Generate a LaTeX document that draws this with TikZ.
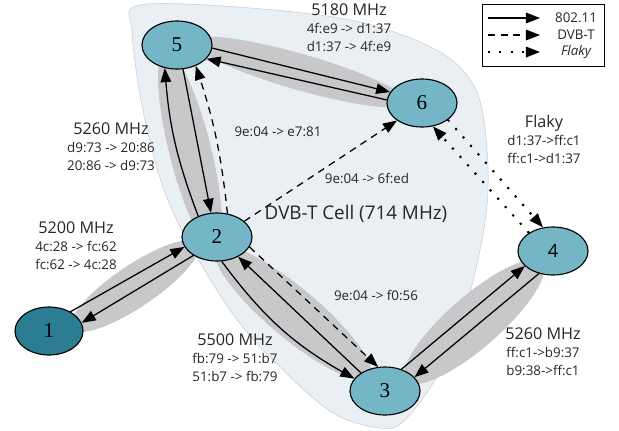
\documentclass[tikz,border=0pt]{standalone}
\usepackage{fontspec}
\setmainfont{Open Sans}
\newfontfamily\numfont{Liberation Serif}
\usetikzlibrary{shapes.geometric,arrows.meta}

\definecolor{cellfill}{HTML}{EAEFF4}
\definecolor{cellline}{HTML}{CDD5DC}
\definecolor{nodelight}{HTML}{74B5C6}
\definecolor{nodedark}{HTML}{2C7D92}
\definecolor{bandgray}{HTML}{C8C8CA}

\newcommand{\freq}[1]{{\fontsize{11.5}{12.8}\selectfont #1}}

\begin{document}
\begin{tikzpicture}[x=0.025cm, y=-0.025cm, >={Triangle[length=10pt,width=7.5pt]}]
  \tikzstyle{station}=[draw, ellipse, fill=nodelight, line width=0.8pt, minimum width=1.75cm, minimum height=1.2cm, inner sep=0pt, font=\numfont\fontsize{15}{15}\selectfont]
  \tikzstyle{band}=[ellipse, fill=bandgray, inner sep=0pt]
  \tikzstyle{wifi}=[->, line width=0.9pt]
  \tikzstyle{dvbt}=[->, line width=0.9pt, dash pattern=on 5pt off 4pt]
  \tikzstyle{flaky}=[->, line width=1.5pt, dash pattern=on 1.5pt off 6.5pt]
  \tikzstyle{linklabel}=[align=center, text=black!85, font=\fontsize{9.5}{12.8}\selectfont]

  \useasboundingbox (0,0) rectangle (619,430);

  % DVB-T cell
  \draw[fill=cellfill, draw=cellline, line width=0.5pt] plot[smooth cycle, tension=0.55] coordinates {
    (140,5) (250,8) (360,22) (440,52) (476,90) (487,150) (486,215) (468,300)
    (442,368) (405,420) (380,428) (333,413) (280,367) (230,310) (172,210) (145,120) (132,32)};

  % grey bands behind the 802.11 links
  \node (b52) at (190,150) [band, minimum width=5.1cm, minimum height=1.05cm, rotate=-76] {};
  \node (b56) at (300,72) [band, minimum width=5.6cm, minimum height=0.9cm, rotate=-16] {};
  \node (b12) at (135,286) [band, minimum width=3.8cm, minimum height=1.05cm, rotate=34] {};
  \node (b23) at (293,313) [band, minimum width=5.0cm, minimum height=1.25cm, rotate=-40] {};
  \node (b34) at (474,322) [band, minimum width=4.5cm, minimum height=1.3cm, rotate=41] {};

  \node (n5) at (177,45) [station] {5};
  \node (n6) at (422,103) [station] {6};
  \node (n2) at (217,237) [station] {2};
  \node (n1) at (49,331) [station, fill=nodedark, minimum width=1.7cm] {1};
  \node (n4) at (553,251) [station, font=\fontsize{13}{13}\selectfont] {4};
  \node (n3) at (385,391) [station] {3};

  \draw[wifi] (n2.132) to[bend left=8] (n5.242);
  \draw[wifi] (n5.284) to (n2.104);
  \draw[wifi] (n5.-5) to (n6.161);
  \draw[wifi] (n6.175) to (n5.-25);
  \draw[wifi] (n1.42) to (n2.197);
  \draw[wifi] (n2.218) to (n1.14);
  \draw[wifi] (n3.143) to (n2.-43);
  \draw[wifi] (n2.-79) to[bend right=12] (n3.158);
  \draw[wifi] (n3.53) to (n4.208);
  \draw[wifi] (n4.238) to (n3.25);

  \draw[dvbt] (n2.66) to[bend right=6] (n5.312);
  \draw[dvbt] (n2.30) to (n6.215);
  \draw[dvbt] (n2.-17) to (n3.106);

  \draw[flaky] (n6.-33) to (n4.113);
  \draw[flaky] (n4.143) to (n6.-65);

  \node (l56) at (349,28) [linklabel] {\freq{5180 MHz}\\4f:e9 -> d1:37\\d1:37 -> 4f:e9};
  \node (l52) at (111,147) [linklabel] {\freq{5260 MHz}\\d9:73 -> 20:86\\20:86 -> d9:73};
  \node (l12) at (76,246) [linklabel] {\freq{5200 MHz}\\4c:28 -> fc:62\\fc:62 -> 4c:28};
  \node (l23) at (235,358) [linklabel] {\freq{5500 MHz}\\fb:79 -> 51:b7\\51:b7 -> fb:79};
  \node (l34) at (543,352) [linklabel] {\freq{5260 MHz}\\ff:c1->b9:37\\b9:38->ff:c1};
  \node (l64) at (544,139) [linklabel] {\freq{Flaky}\\d1:37->ff:c1\\ff:c1->d1:37};
  \node (d25) at (278,132) [linklabel] {9e:04 -> e7:81};
  \node (d26) at (367,178) [linklabel] {9e:04 -> 6f:ed};
  \node (d23) at (376,295) [linklabel] {9e:04 -> f0:56};
  \node (cell) at (356,214) [text=black!85, font=\fontsize{13.4}{14}\selectfont] {DVB-T Cell (714 MHz)};

  % legend
  \draw[line width=0.6pt] (482,4) rectangle (604,66);
  \coordinate (k1a) at (488,18);
  \coordinate (k1b) at (540,18);
  \coordinate (k2a) at (488,35);
  \coordinate (k2b) at (540,35);
  \coordinate (k3a) at (488,52);
  \coordinate (k3b) at (540,52);
  \draw[wifi] (k1a) -- (k1b);
  \draw[dvbt] (k2a) -- (k2b);
  \draw[flaky, line width=1.2pt] (k3a) -- (k3b);
  \node (k1) at (576,18) [linklabel] {802.11};
  \node (k2) at (576,35) [linklabel] {DVB-T};
  \node (k3) at (576,52) [linklabel] {\itshape Flaky};
\end{tikzpicture}
\end{document}
